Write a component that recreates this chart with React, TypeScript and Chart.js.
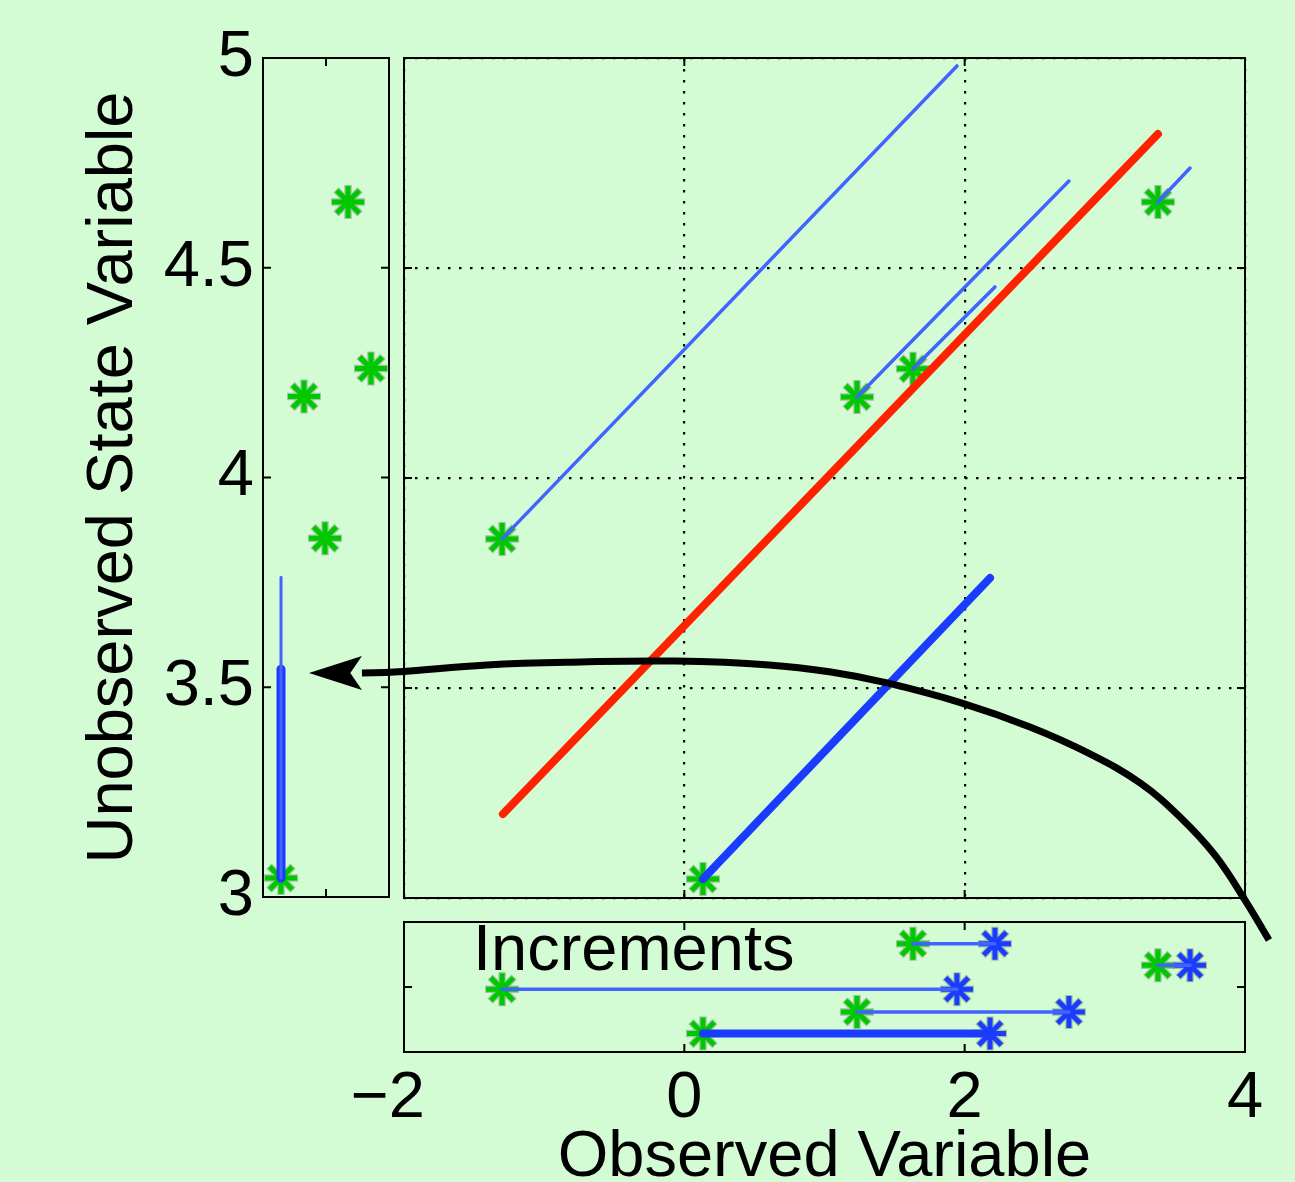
import React, { useEffect, useRef } from "react";
import { Chart, registerables } from "chart.js";
Chart.register(...registerables);

// ---------------- data ----------------
// prior ensemble: observed variable (x) and unobserved state (y)
const OBS_PRIOR = [-1.3, 1.232, 1.631, 3.379, 0.133];
const STATE_PRIOR = [3.855, 4.193, 4.26, 4.657, 3.045];
// end points of the regression lines drawn from each member
const OBS_POST = [1.945, 2.744, 2.216, 3.608, 2.181];
const STATE_POST = [4.981, 4.707, 4.455, 4.738, 3.762];
const THICK_MEMBER = 4;
// least-squares regression line
const REG_X = [-1.294, 3.379];
const REG_Y = [3.2, 4.819];
// left marginal panel
const MARG_JITTER = [-0.016, -0.349, 0.714, 0.35, -0.714];
const MARG_LINE_X = [-0.714, -0.714];
const MARG_THIN_Y = [3.045, 3.762];
const MARG_THICK_Y = [3.045, 3.543];
// increments panel rows
const INC_ROWS = [2.9, 1.85, 5.0, 4.0, 0.85];
const INC_LABEL = "Increments";
const INC_LABEL_POS = { x: -1.508, y: 3.785 };
// annotation arrow (in main-panel data coordinates)
const ARROW_X = [-2.3, -2.071, -1.408, -0.737, -0.067, 0.604, 1.046, 1.446, 1.981, 2.466, 2.894, 3.251, 3.536, 3.786, 4.0, 4.171];
const ARROW_Y = [3.536, 3.538, 3.555, 3.562, 3.564, 3.555, 3.538, 3.512, 3.464, 3.407, 3.343, 3.274, 3.193, 3.102, 2.995, 2.9];
const ARROW_TIP = { x: -2.678, y: 3.536 };
// axes
const X_MIN = -2, X_MAX = 4;
const Y_MIN = 3, Y_MAX = 5;
const X_TICKS = [-2, 0, 2, 4];
const X_TICK_LABELS = ["−2", "0", "2", "4"];
const Y_TICKS = [3, 3.5, 4, 4.5, 5];
const Y_TICK_LABELS = ["3", "3.5", "4", "4.5", "5"];
const LEFT_X_TICKS = [0];
const INC_Y_TICKS = [3];
const X_TITLE = "Observed Variable";
const Y_TITLE = "Unobserved State Variable";

// ---------------- style / layout ----------------
const W = 1295, H = 1182;
const FONT = "'Liberation Sans', Arial, Helvetica, sans-serif";
const FS = 65;
const BG = "#d4fcd4";
const GREEN = "#00c800";
const BLUE = "#1a3cff";
const BLUE_THIN = "#4263ff";
const RED = "#ff2200";
const HALO = "rgba(120,150,120,0.55)";
const MAIN = { left: 404, right: 1245, top: 58, bottom: 898 };

Chart.defaults.font.family = FONT;

const boxPlugin = {
  id: "matlabBox",
  afterDatasetsDraw(chart: any, _a: any, opts: any) {
    const { ctx, chartArea: a } = chart;
    const xs = chart.scales.x, ys = chart.scales.y;
    const L = 8;
    ctx.save();
    ctx.strokeStyle = "#000";
    ctx.lineWidth = 2;
    ctx.strokeRect(a.left, a.top, a.right - a.left, a.bottom - a.top);
    ctx.beginPath();
    (opts.xTicks || []).forEach((v: number) => {
      const p = xs.getPixelForValue(v);
      if (p > a.left + 2 && p < a.right - 2) {
        ctx.moveTo(p, a.bottom); ctx.lineTo(p, a.bottom - L);
        ctx.moveTo(p, a.top); ctx.lineTo(p, a.top + L);
      }
    });
    (opts.yTicks || []).forEach((v: number) => {
      const p = ys.getPixelForValue(v);
      if (p > a.top + 2 && p < a.bottom - 2) {
        ctx.moveTo(a.left, p); ctx.lineTo(a.left + L, p);
        ctx.moveTo(a.right, p); ctx.lineTo(a.right - L, p);
      }
    });
    ctx.stroke();
    ctx.restore();
  },
};

const labelPlugin = {
  id: "incLabel",
  afterDatasetsDraw(chart: any) {
    const { ctx } = chart;
    ctx.save();
    ctx.font = `${FS}px ${FONT}`;
    ctx.fillStyle = "#000";
    ctx.textBaseline = "alphabetic";
    ctx.textAlign = "left";
    ctx.fillText(INC_LABEL, chart.scales.x.getPixelForValue(INC_LABEL_POS.x), chart.scales.y.getPixelForValue(INC_LABEL_POS.y));
    ctx.restore();
  },
};

const arrowHeadPlugin = {
  id: "arrowHead",
  afterDatasetsDraw(chart: any) {
    const { ctx } = chart;
    const xs = chart.scales.x, ys = chart.scales.y;
    const tx = xs.getPixelForValue(ARROW_TIP.x), ty = ys.getPixelForValue(ARROW_TIP.y);
    const bx = xs.getPixelForValue(ARROW_X[0]), by = ys.getPixelForValue(ARROW_Y[0]);
    const len = Math.hypot(bx - tx, by - ty);
    const dx = (bx - tx) / len, dy = (by - ty) / len;
    const nx = -dy, ny = dx;
    const hw = 17;
    ctx.save();
    ctx.fillStyle = "#000";
    ctx.beginPath();
    ctx.moveTo(tx, ty);
    ctx.lineTo(bx + nx * hw, by + ny * hw);
    ctx.lineTo(tx + dx * len * 0.78, ty + dy * len * 0.78);
    ctx.lineTo(bx - nx * hw, by - ny * hw);
    ctx.closePath();
    ctx.fill();
    ctx.restore();
  },
};

const star = (color: string, halo = false) => ({
  showLine: false,
  pointStyle: "star",
  pointRadius: halo ? 17 : 16,
  pointHoverRadius: halo ? 17 : 16,
  borderWidth: halo ? 7.5 : 5,
  pointBorderWidth: halo ? 7.5 : 5,
  borderColor: halo ? HALO : color,
  backgroundColor: halo ? HALO : color,
});

const seg = (pts: { x: number; y: number }[], color: string, width: number) => ({
  data: pts,
  showLine: true,
  borderColor: color,
  borderWidth: width,
  borderCapStyle: "round",
  pointRadius: 0,
  pointHoverRadius: 0,
});

const baseOpts = {
  responsive: false,
  maintainAspectRatio: false,
  animation: false,
  events: [],
};

function leftConfig(): any {
  const pts = MARG_JITTER.map((x, i) => ({ x, y: STATE_PRIOR[i] }));
  return {
    type: "scatter",
    data: {
      datasets: [
        seg(MARG_LINE_X.map((x, i) => ({ x, y: MARG_THIN_Y[i] })), BLUE_THIN, 3),
        seg(MARG_LINE_X.map((x, i) => ({ x, y: MARG_THICK_Y[i] })), BLUE, 9),
        { ...star(GREEN), data: pts },
        { ...star(GREEN, true), data: pts },
      ],
    },
    options: {
      ...baseOpts,
      layout: { autoPadding: false, padding: { top: MAIN.top, right: 6, bottom: 945 - MAIN.bottom, left: 0 } },
      plugins: { legend: { display: false }, tooltip: { enabled: false }, matlabBox: { xTicks: LEFT_X_TICKS, yTicks: Y_TICKS } },
      scales: {
        x: { type: "linear", min: -1, max: 1, display: false },
        y: {
          type: "linear",
          min: Y_MIN,
          max: Y_MAX,
          afterBuildTicks: (s: any) => { s.ticks = Y_TICKS.map((v) => ({ value: v })); },
          ticks: {
            font: { family: FONT, size: FS }, color: "#000", padding: 9,
            callback: (_v: any, i: number) => Y_TICK_LABELS[i],
          },
          grid: { display: false, drawTicks: false },
          border: { display: false },
          title: { display: true, text: Y_TITLE, color: "#000", font: { family: FONT, size: FS }, padding: { top: 75, bottom: 0 } },
          afterFit: (s: any) => { s.width = 263; },
        },
      },
    },
    plugins: [boxPlugin],
  };
}

function mainConfig(): any {
  const segs = OBS_PRIOR.map((x, i) =>
    seg(
      [{ x, y: STATE_PRIOR[i] }, { x: OBS_POST[i], y: STATE_POST[i] }],
      i === THICK_MEMBER ? BLUE : BLUE_THIN,
      i === THICK_MEMBER ? 8 : 3.5
    )
  );
  const pts = OBS_PRIOR.map((x, i) => ({ x, y: STATE_PRIOR[i] }));
  return {
    type: "scatter",
    data: {
      datasets: [
        ...segs,
        seg(REG_X.map((x, i) => ({ x, y: REG_Y[i] })), RED, 8),
        { ...star(GREEN), data: pts },
        { ...star(GREEN, true), data: pts },
      ],
    },
    options: {
      ...baseOpts,
      layout: { autoPadding: false, padding: { top: MAIN.top, right: W - MAIN.right, bottom: 905 - MAIN.bottom, left: MAIN.left - 396 } },
      plugins: { legend: { display: false }, tooltip: { enabled: false }, matlabBox: { xTicks: X_TICKS, yTicks: Y_TICKS } },
      scales: {
        x: {
          type: "linear", min: X_MIN, max: X_MAX,
          afterBuildTicks: (s: any) => { s.ticks = X_TICKS.map((v) => ({ value: v })); },
          ticks: { display: false },
          grid: { color: "#000", lineWidth: 2.2, drawTicks: false },
          border: { display: false, dash: [2.5, 8.5] },
          afterFit: (s: any) => { s.height = 0; },
        },
        y: {
          type: "linear", min: Y_MIN, max: Y_MAX,
          afterBuildTicks: (s: any) => { s.ticks = Y_TICKS.map((v) => ({ value: v })); },
          ticks: { display: false },
          grid: { color: "#000", lineWidth: 2.2, drawTicks: false },
          border: { display: false, dash: [2.5, 8.5] },
          afterFit: (s: any) => { s.width = 0; },
        },
      },
    },
    plugins: [boxPlugin],
  };
}

const BOT = { left: 300, top: 912, height: 285 };

function bottomConfig(): any {
  const segs = OBS_PRIOR.map((x, i) =>
    seg(
      [{ x, y: INC_ROWS[i] }, { x: OBS_POST[i], y: INC_ROWS[i] }],
      i === THICK_MEMBER ? BLUE : BLUE_THIN,
      i === THICK_MEMBER ? 8 : 3.5
    )
  );
  const post = OBS_POST.map((x, i) => ({ x, y: INC_ROWS[i] }));
  const prior = OBS_PRIOR.map((x, i) => ({ x, y: INC_ROWS[i] }));
  return {
    type: "scatter",
    data: {
      datasets: [
        ...segs,
        { ...star(BLUE), data: post },
        { ...star(BLUE, true), data: post },
        { ...star(GREEN), data: prior },
        { ...star(GREEN, true), data: prior },
      ],
    },
    options: {
      ...baseOpts,
      layout: { autoPadding: false, padding: { top: 922 - BOT.top, right: W - MAIN.right, bottom: 0, left: MAIN.left - BOT.left } },
      plugins: { legend: { display: false }, tooltip: { enabled: false }, matlabBox: { xTicks: X_TICKS, yTicks: INC_Y_TICKS } },
      scales: {
        x: {
          type: "linear", min: X_MIN, max: X_MAX,
          afterBuildTicks: (s: any) => { s.ticks = X_TICKS.map((v) => ({ value: v })); },
          ticks: {
            font: { family: FONT, size: FS }, color: "#000", padding: 8, maxRotation: 0, autoSkip: false,
            callback: (_v: any, i: number) => (i === 0 ? X_TICK_LABELS[i] + "\u2002" : X_TICK_LABELS[i]),
          },
          grid: { display: false, drawTicks: false },
          border: { display: false },
          title: { display: true, text: X_TITLE, color: "#000", font: { family: FONT, size: FS }, padding: { top: 0, bottom: 0 } },
          afterFit: (s: any) => { s.height = BOT.top + BOT.height - 1052; },
        },
        y: { type: "linear", min: 0, max: 6, display: false },
      },
    },
    plugins: [boxPlugin, labelPlugin],
  };
}

function overlayConfig(): any {
  const pxX = (MAIN.right - MAIN.left) / (X_MAX - X_MIN);
  const pxY = (MAIN.bottom - MAIN.top) / (Y_MAX - Y_MIN);
  return {
    type: "scatter",
    data: {
      datasets: [
        {
          data: ARROW_X.map((x, i) => ({ x, y: ARROW_Y[i] })),
          showLine: true,
          tension: 0.4,
          borderColor: "#000",
          borderWidth: 7,
          pointRadius: 0,
          pointHoverRadius: 0,
        },
      ],
    },
    options: {
      ...baseOpts,
      layout: { autoPadding: false, padding: 0 },
      plugins: { legend: { display: false }, tooltip: { enabled: false } },
      scales: {
        x: { type: "linear", display: false, min: X_MIN - MAIN.left / pxX, max: X_MAX + (W - MAIN.right) / pxX },
        y: { type: "linear", display: false, min: Y_MIN - (H - MAIN.bottom) / pxY, max: Y_MAX + MAIN.top / pxY },
      },
    },
    plugins: [arrowHeadPlugin],
  };
}

function ChartCanvas(props: { cfg: () => any; left: number; top: number; width: number; height: number; z?: number }) {
  const ref = useRef<HTMLCanvasElement | null>(null);
  useEffect(() => {
    const c = new Chart(ref.current as HTMLCanvasElement, props.cfg());
    return () => c.destroy();
  }, []);
  return (
    <canvas
      ref={ref}
      width={props.width}
      height={props.height}
      style={{
        position: "absolute",
        left: props.left,
        top: props.top,
        width: props.width,
        height: props.height,
        zIndex: props.z || 1,
        pointerEvents: "none",
      }}
    />
  );
}

export default function App() {
  return (
    <div style={{ position: "fixed", left: 0, top: 0, width: W, height: H, overflow: "hidden", background: BG }}>
      <ChartCanvas cfg={leftConfig} left={0} top={0} width={395} height={945} />
      <ChartCanvas cfg={mainConfig} left={396} top={0} width={W - 396} height={905} />
      <ChartCanvas cfg={bottomConfig} left={BOT.left} top={BOT.top} width={W - BOT.left} height={BOT.height} />
      <ChartCanvas cfg={overlayConfig} left={0} top={0} width={W} height={H} z={5} />
    </div>
  );
}
